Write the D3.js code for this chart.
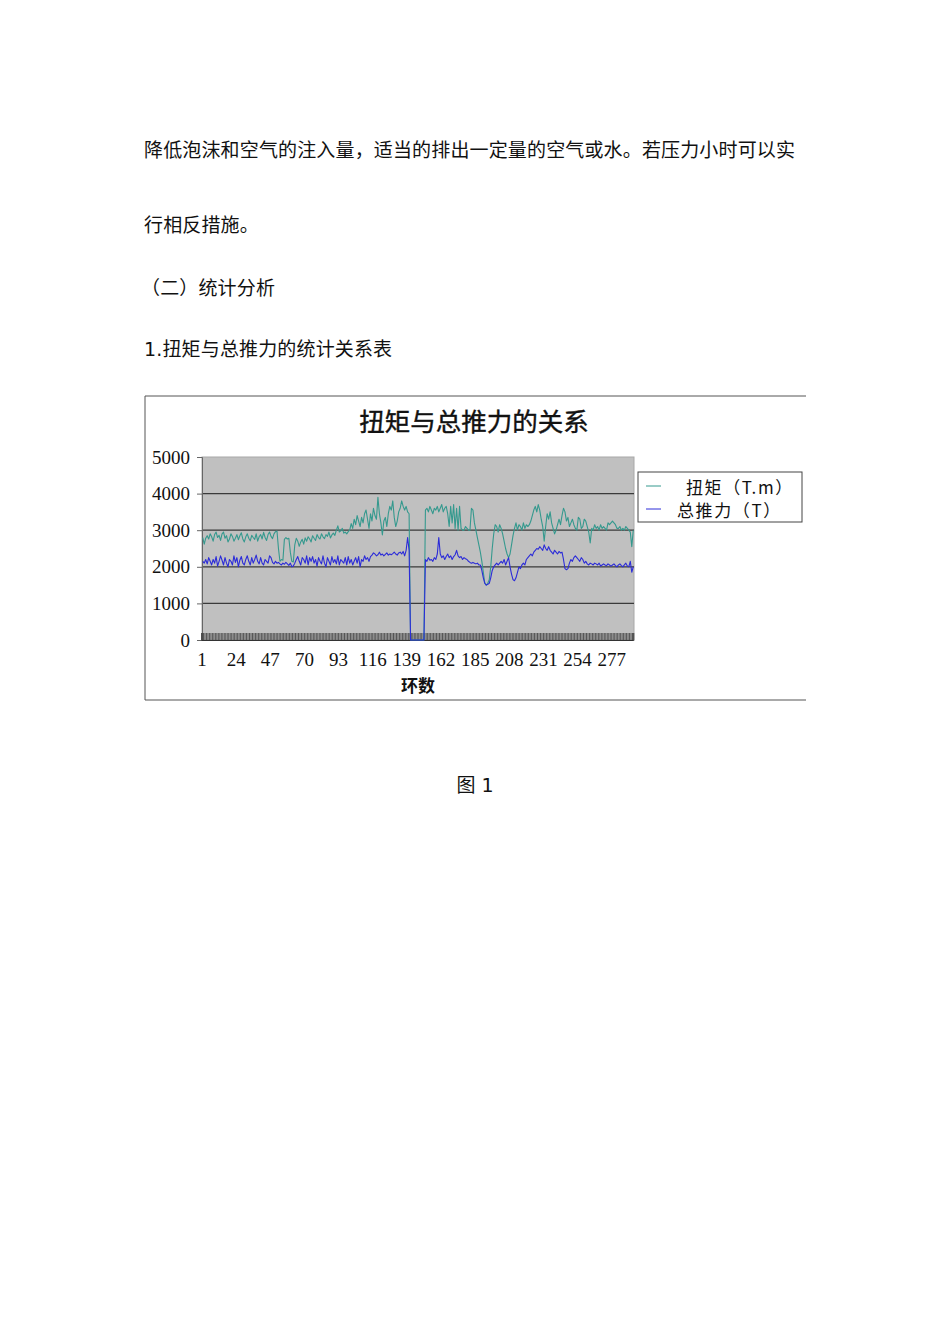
<!DOCTYPE html>
<html>
<head>
<meta charset="utf-8">
<script src="https://cdn.jsdelivr.net/npm/d3@7/dist/d3.min.js"></script>
<style>
  body { margin: 0; background: #fff; }
  svg { display: block; }
</style>
</head>
<body>
<svg id="page" width="950" height="1344"></svg>
<script>
// text lines of the page
const paragraphs = [
  "降低泡沫和空气的注入量，适当的排出一定量的空气或水。若压力小时可以实",
  "行相反措施。",
  "（二）统计分析",
  "1.扭矩与总推力的统计关系表"
];
const chartTitle = "扭矩与总推力的关系";
const xTitle = "环数";
const figCaption = "图 1";
const seriesNames = ["扭矩（T.m）", "总推力（T）"];
const yTicks = [0, 1000, 2000, 3000, 4000, 5000];
const xTickLabels = [1, 24, 47, 70, 93, 116, 139, 162, 185, 208, 231, 254, 277];

// 扭矩 (T.m), ring 1..291
const torque = [
  2800, 2620, 2780, 2850, 2760, 2900, 2820, 2700, 2880, 2950,
  2800, 2860, 2720, 2900, 2950, 2780, 2850, 2680, 2760, 2900,
  2830, 2700, 2780, 2880, 2740, 2850, 2930, 2760, 2680, 2820,
  2900, 2780, 2710, 2860, 2800, 2750, 2900, 2700, 2820, 2880,
  2760, 2940, 2800, 2720, 2880, 2950, 2830, 2770, 2900, 2960,
  2980, 2500, 2150, 2200, 2180, 2750, 2800, 2760, 2780, 2400,
  2150, 2130, 2600, 2780, 2700, 2560, 2680, 2750, 2620, 2790,
  2700, 2820, 2760, 2680, 2850, 2780, 2720, 2880, 2800, 2760,
  2900, 2820, 2770, 2880, 2830, 2950, 2790, 2870, 2920, 2860,
  3000, 3120, 2950, 2980, 3050, 2920, 2950, 2900, 2960, 3000,
  3180, 3050, 3300, 3150, 3400, 3250, 3100, 3350, 3200, 3450,
  3550, 3300, 3050, 3450, 3250, 3600, 3400, 3300, 3900, 3450,
  3200, 2870, 3250, 3350, 3100, 3450, 3650, 3550, 3800, 3350,
  3100, 3250, 3500, 3600, 3800, 3650, 3550, 3650, 3500, 3450,
  0, 0, 0, 0, 0, 0, 0, 0, 0, 0,
  3550, 3600, 3500, 3650, 3550, 3450, 3600, 3550, 3650, 3500,
  3600, 3700, 3500, 3600, 3650, 3450, 3100, 3650, 3200, 3700,
  3050, 3600, 3000, 3650, 3050, 3000, 3000, 3100, 3050, 3000,
  3000, 3600, 3550, 3200, 3000, 2800, 2600, 2400, 2150, 1850,
  1550, 1500, 1550, 1650, 2000, 2500, 2900, 3150, 3100, 2950,
  3150, 3050, 2900, 2700, 2500, 2350, 2250, 2350, 2600, 2850,
  3050, 3200, 3000, 3150, 3100, 3000, 3200, 3050, 3150, 3100,
  3150, 3250, 3400, 3550, 3650, 3500, 3700, 3550, 3300, 3100,
  2700, 3100, 3450, 3300, 3500, 3200, 3050, 2900, 3000, 3150,
  3300, 3150, 3400, 3600, 3500, 3250, 3350, 3100, 3200, 3300,
  3150, 3050, 3000, 3350, 3300, 3050, 3100, 3300, 3250, 3100,
  2950, 2650, 3050, 3000, 3150, 3050, 3100, 3000, 3150, 3050,
  3100, 3050, 3000, 3200, 3150, 3200, 3250, 3200, 3150, 3050,
  3050, 3100, 3000, 3050, 3000, 3100, 3050, 3000, 2950, 2550, 3000
];

// 总推力 (T), ring 1..291
const thrust = [
  2150, 2100, 2200, 2080, 2250, 2150, 2050, 2200, 2100, 2280,
  2020, 2150, 2300, 2180, 2050, 2250, 2100, 2000, 2200, 2150,
  2050, 2300, 2120, 2250, 2000, 2180, 2280, 2100, 2050, 2200,
  2300, 2150, 2050, 2250, 2100, 2200, 2320, 2150, 2080, 2250,
  2100, 2050, 2200, 2150, 2100, 2300, 2250, 2120, 2080, 2150,
  2100, 2120, 2080, 2050, 2100, 2070, 2120, 2080, 2040, 2100,
  2000, 2020, 2100, 2200, 2280, 2150, 2050, 2250, 2200, 2100,
  2300, 2050, 2250, 2150, 2280, 2100, 2200, 2020, 2250, 2150,
  2080, 2300, 2100, 2000, 2250, 2150, 2050, 2280, 2120, 2200,
  2080, 2300, 2050, 2200, 2150, 2100, 2250, 2050, 2280, 2100,
  2200, 2050, 2150, 2250, 2100, 2280, 2000, 2200, 2150, 2300,
  2200, 2250, 2150, 2280, 2320, 2380, 2350, 2300, 2330, 2400,
  2320, 2350, 2300, 2340, 2380, 2320, 2350, 2330, 2360, 2400,
  2350, 2320, 2380, 2400, 2350, 2420, 2300, 2450, 2800, 2450,
  0, 0, 0, 0, 0, 0, 0, 0, 0, 0,
  2200, 2150, 2250, 2180, 2200, 2150, 2250, 2200, 2350, 2800,
  2350, 2250, 2300, 2200, 2280, 2350, 2250, 2300, 2200, 2280,
  2330, 2450, 2300, 2250, 2280, 2200, 2250, 2220, 2200, 2150,
  2120, 2100, 2120, 2100, 2080, 2100, 2050, 2050, 1900, 1700,
  1550, 1500, 1520, 1550, 1700, 1900, 2000, 2050, 2100, 2050,
  2100, 2150, 2100, 2200, 2050, 2150, 2250, 2000, 1800, 1650,
  1620, 1700, 1850, 2000, 1950, 2050, 2100, 2050, 2200, 2250,
  2300, 2350, 2300, 2400, 2450, 2500, 2480, 2550, 2500, 2450,
  2600, 2500, 2450, 2550, 2450, 2400, 2350, 2450, 2400, 2350,
  2420, 2380, 2400, 2200, 1950, 1920, 1950, 2100, 2200, 2150,
  2250, 2300, 2250, 2200, 2150, 2250, 2200, 2100, 2150, 2080,
  2050, 2100, 2080, 2050, 2100, 2080, 2050, 2100, 2020, 2050,
  2080, 2050, 2030, 2080, 2050, 2020, 2050, 2080, 2030, 2000,
  2050, 2080, 2030, 2000, 2050, 2100, 2020, 2000, 2150, 1850, 2000
];

const rings = d3.range(1, torque.length + 1);
const colors = ["#35998e", "#2c2cd8"];
const bodyFont = "'DejaVu Sans', 'Noto Sans CJK SC', sans-serif";
const cjkFont = "'Noto Sans CJK SC', sans-serif";
const numFont = "'Liberation Serif', 'DejaVu Serif', serif";

const svg = d3.select("#page");

// body text
const textY = [150, 225, 288, 349];
svg.selectAll("text.para")
  .data(paragraphs)
  .enter()
  .append("text")
    .attr("class", "para")
    .attr("x", (d, i) => i == 2 ? 141 : 144)
    .attr("y", (d, i) => textY[i])
    .attr("dominant-baseline", "central")
    .style("font-family", bodyFont)
    .style("font-size", "19px")
    .style("letter-spacing", "0.15px")
    .style("fill", "#111")
    .text(d => d);

svg.append("text")
    .attr("x", 475)
    .attr("y", 785)
    .attr("text-anchor", "middle")
    .attr("dominant-baseline", "central")
    .style("font-family", bodyFont)
    .style("font-size", "19px")
    .style("fill", "#111")
    .text(figCaption);

// chart frame (right side is cut off in the page)
svg.append("path")
    .attr("d", "M806,396 H145 V700 H806")
    .style("fill", "none")
    .style("stroke", "#555")
    .style("stroke-width", 1);

svg.append("text")
    .attr("x", 474)
    .attr("y", 419)
    .attr("text-anchor", "middle")
    .attr("dominant-baseline", "central")
    .style("font-family", cjkFont)
    .style("font-size", "25.5px")
    .style("fill", "#111")
    .style("stroke", "#111")
    .style("stroke-width", 0.4)
    .text(chartTitle);

// plot area
const plot = { left: 202, right: 634, top: 457, bottom: 640 };

const x = d3.scaleBand()
  .domain(rings)
  .range([plot.left, plot.right])
  .paddingInner(0)
  .paddingOuter(0);

const y = d3.scaleLinear()
  .domain([0, 5000])
  .range([plot.bottom, plot.top]);

svg.append("rect")
    .attr("x", plot.left)
    .attr("y", plot.top)
    .attr("width", plot.right - plot.left)
    .attr("height", plot.bottom - plot.top)
    .style("fill", "#c0c0c0")
    .style("stroke", "#a8a8a8")
    .style("stroke-width", 1);

// grid lines
svg.append("g")
  .selectAll("line")
  .data(yTicks.filter(d => d > 0 && d < 5000))
  .enter()
  .append("line")
    .attr("x1", plot.left)
    .attr("x2", plot.right)
    .attr("y1", d => y(d))
    .attr("y2", d => y(d))
    .style("stroke", "#3a3a3a")
    .style("stroke-width", 1.2);

// y axis
const yAxis = d3.axisLeft(y)
  .tickValues(yTicks)
  .tickFormat(d3.format("d"))
  .tickSize(5)
  .tickPadding(7);
const gy = svg.append("g")
  .attr("transform", `translate(${plot.left},0)`)
  .call(yAxis);
gy.select(".domain").style("stroke", "#666");
gy.selectAll(".tick line").style("stroke", "#666");
gy.selectAll(".tick text")
  .style("font-family", numFont)
  .style("font-size", "19px")
  .style("fill", "#111");

// dense category ticks along the bottom
const xTicks = d3.axisBottom(x).tickValues(rings).tickSize(-7).tickFormat("");
const gxt = svg.append("g")
  .attr("transform", `translate(${-x.bandwidth() / 2},${plot.bottom})`)
  .call(xTicks);
gxt.select(".domain").style("stroke", "#333");
gxt.selectAll(".tick line").style("stroke", "#3a3a3a").style("stroke-width", 0.8);

// x labels every 23 rings
const xAxis = d3.axisBottom(x).tickValues(xTickLabels).tickSize(0).tickPadding(13);
const gx = svg.append("g")
  .attr("transform", `translate(${-x.bandwidth() / 2},${plot.bottom})`)
  .call(xAxis);
gx.select(".domain").remove();
gx.selectAll(".tick text")
  .style("font-family", numFont)
  .style("font-size", "19px")
  .style("fill", "#111");

svg.append("text")
    .attr("x", (plot.left + plot.right) / 2)
    .attr("y", 684)
    .attr("text-anchor", "middle")
    .attr("dominant-baseline", "central")
    .style("font-family", cjkFont)
    .style("font-size", "17px")
    .style("font-weight", "bold")
    .style("fill", "#111")
    .text(xTitle);

// lines
const line = d3.line()
  .x((d, i) => x(rings[i]) + x.bandwidth() / 2)
  .y(d => y(d));

[torque, thrust].forEach((series, k) => {
  svg.append("path")
    .datum(series)
    .attr("d", line)
    .style("fill", "none")
    .style("stroke", colors[k])
    .style("stroke-width", 1.1)
    .style("stroke-linejoin", "round");
});

// legend
const legend = svg.append("g").attr("transform", "translate(638,472)");
legend.append("rect")
    .attr("width", 164)
    .attr("height", 50)
    .style("fill", "#fff")
    .style("stroke", "#444")
    .style("stroke-width", 1);

const legendRows = [
  { y: 14, tx: 48 },
  { y: 37, tx: 39 }
];
legendRows.forEach((r, k) => {
  legend.append("line")
      .attr("x1", 8)
      .attr("x2", 23)
      .attr("y1", r.y)
      .attr("y2", r.y)
      .style("stroke", colors[k])
      .style("stroke-width", 1);
  legend.append("text")
      .attr("x", r.tx)
      .attr("y", r.y)
      .attr("dominant-baseline", "central")
      .style("font-family", cjkFont)
      .style("font-size", "17px")
      .style("letter-spacing", "1.6px")
      .style("fill", "#111")
      .text(seriesNames[k]);
});
</script>
</body>
</html>
